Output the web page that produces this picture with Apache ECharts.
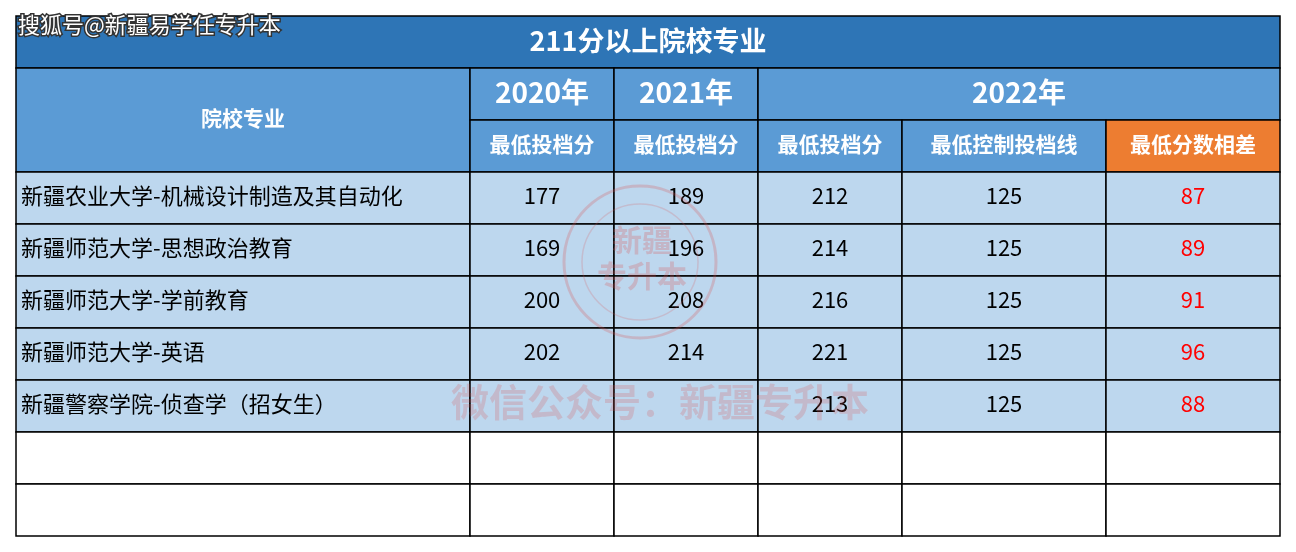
<!DOCTYPE html>
<html><head><meta charset="utf-8">
<script src="https://cdn.jsdelivr.net/npm/echarts@6/dist/echarts.min.js"></script>
<style>html,body{margin:0;padding:0;background:#fff}#c{width:1296px;height:552px}</style>
</head><body><div id="c"></div>
<script>
const title = '211分以上院校专业';
const years = ['2020年','2021年','2022年'];
const subHeaders = ['最低投档分','最低投档分','最低投档分','最低控制投档线','最低分数相差'];
const schools = ['新疆农业大学-机械设计制造及其自动化','新疆师范大学-思想政治教育','新疆师范大学-学前教育','新疆师范大学-英语','新疆警察学院-侦查学（招女生）'];
const score2020 = [177,169,200,202,''];
const score2021 = [189,196,208,214,''];
const score2022 = [212,214,216,221,213];
const control2022 = [125,125,125,125,125];
const diff2022 = [87,89,91,96,88];
const emptyRows = 2;

const F = '"Noto Sans CJK SC","Noto Sans",sans-serif';
const xs = [16,470,614,758,902,1106,1280];
const y0 = 16, titleH = 52, hH = 52, rH = 52;
const els = [];
function rect(x1,y1,x2,y2,fill){els.push({type:'rect',shape:{x:x1,y:y1,width:x2-x1,height:y2-y1},style:{fill:fill,stroke:'#000',lineWidth:1.5}});}
function txt(x,y,t,o){els.push({type:'text',x:x,y:y,style:Object.assign({text:String(t),font:'22px '+F,fill:'#000',align:'center',verticalAlign:'middle'},o||{})});}
rect(xs[0],y0,xs[6],y0+titleH,'#2E75B6');
txt((xs[0]+xs[6])/2,y0+titleH/2-1,title,{fill:'#fff',font:'bold 27px '+F});
const h1 = y0+titleH, h2 = h1+hH, d0 = h2+hH;
rect(xs[0],h1,xs[1],d0,'#5B9BD5');
txt((xs[0]+xs[1])/2,(h1+d0)/2-2,'院校专业',{fill:'#fff',font:'bold 21px '+F});
rect(xs[1],h1,xs[2],h2,'#5B9BD5'); txt((xs[1]+xs[2])/2,(h1+h2)/2-2,years[0],{fill:'#fff',font:'bold 28px '+F});
rect(xs[2],h1,xs[3],h2,'#5B9BD5'); txt((xs[2]+xs[3])/2,(h1+h2)/2-2,years[1],{fill:'#fff',font:'bold 28px '+F});
rect(xs[3],h1,xs[6],h2,'#5B9BD5'); txt((xs[3]+xs[6])/2,(h1+h2)/2-2,years[2],{fill:'#fff',font:'bold 28px '+F});
subHeaders.forEach((s,i)=>{rect(xs[i+1],h2,xs[i+2],d0,i===4?'#ED7D31':'#5B9BD5');txt((xs[i+1]+xs[i+2])/2,(h2+d0)/2-2,s,{fill:'#fff',font:'bold 21px '+F});});
schools.forEach((s,r)=>{
  const ya=d0+r*rH, yb=ya+rH, yc=(ya+yb)/2-2;
  const vals=[score2020[r],score2021[r],score2022[r],control2022[r],diff2022[r]];
  rect(xs[0],ya,xs[1],yb,'#BDD7EE'); txt(xs[0]+5,yc,s,{align:'left'});
  vals.forEach((v,i)=>{rect(xs[i+1],ya,xs[i+2],yb,'#BDD7EE');txt((xs[i+1]+xs[i+2])/2,yc,v,{fill:i===4?'#FF0000':'#000'});});
});
for(let e=0;e<emptyRows;e++){const ya=d0+(schools.length+e)*rH;for(let i=0;i<6;i++)rect(xs[i],ya,xs[i+1],ya+rH,'#fff');}
els.push({type:'circle',shape:{cx:640,cy:262,r:76},style:{fill:'none',stroke:'rgba(220,80,80,0.25)',lineWidth:3}});
els.push({type:'circle',shape:{cx:640,cy:262,r:58},style:{fill:'none',stroke:'rgba(220,80,80,0.2)',lineWidth:1.5}});
txt(642,240,'新疆',{fill:'rgba(220,80,80,0.25)',font:'bold 30px '+F});
txt(642,276,'专升本',{fill:'rgba(220,80,80,0.25)',font:'bold 30px '+F});
txt(660,402,'微信公众号：新疆专升本',{fill:'rgba(220,80,80,0.22)',font:'bold 38px '+F});
txt(18,25,'搜狐号@新疆易学任专升本',{align:'left',fill:'#fff',stroke:'#333',lineWidth:3,font:'22px '+F});
const chart = echarts.init(document.getElementById('c'));
chart.setOption({animation:false,graphic:{elements:els}});
</script></body></html>
